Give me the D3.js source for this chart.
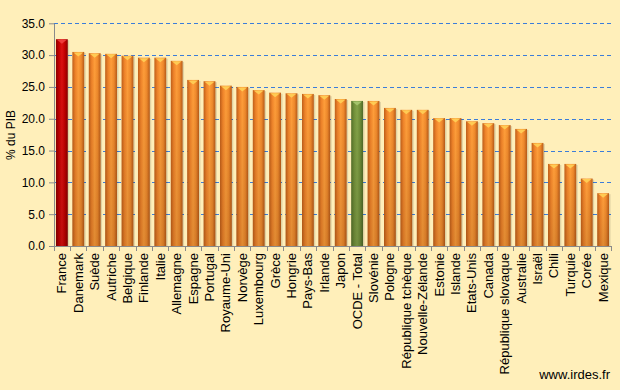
<!DOCTYPE html>
<html>
<head>
<meta charset="utf-8">
<script src="https://cdn.jsdelivr.net/npm/d3@7/dist/d3.min.js"></script>
<style>
html,body{margin:0;padding:0;background:#FFEFBA;}
svg{display:block;font-family:"Liberation Sans",Arial,sans-serif;}
</style>
</head>
<body>
<svg id="chart" width="620" height="390"></svg>
<script>
const categories = ["France","Danemark","Suède","Autriche","Belgique","Finlande","Italie","Allemagne","Espagne","Portugal","Royaume-Uni","Norvège","Luxembourg","Grèce","Hongrie","Pays-Bas","Irlande","Japon","OCDE - Total","Slovénie","Pologne","République tchèque","Nouvelle-Zélande","Estonie","Islande","Etats-Unis","Canada","République slovaque","Australie","Israël","Chili","Turquie","Corée","Mexique"];
const values = [32.5,30.5,30.3,30.2,29.9,29.6,29.6,29.1,26.1,25.9,25.2,25.0,24.5,24.1,24.0,23.9,23.7,23.1,22.8,22.8,21.7,21.4,21.4,20.1,20.1,19.6,19.3,19.0,18.4,16.2,12.9,12.9,10.6,8.3];
const highlight = {"France":"red","OCDE - Total":"green"};
const yTicks = [0,5,10,15,20,25,30,35];
const yLabel = "% du PIB";
const credit = "www.irdes.fr";

(function(){
const svg = d3.select("#chart");
const mLeft = 54, mRight = 611, mTop = 23.3, mBottom = 246;

const x = d3.scaleBand().domain(categories).range([mLeft, mRight]).paddingInner(0.28).paddingOuter(0.12);
const y = d3.scaleLinear().domain([0,35]).range([mBottom, mTop]);

const defs = svg.append("defs");
const palettes = {
  orange: ["#C05F1A","#F0842A","#FF9E3A","#F08A2C","#B85A18"],
  red: ["#8E0000","#C40000","#DC1010","#C20000","#880000"],
  green: ["#55702A","#73913A","#84A348","#708E38","#506A28"]
};
Object.entries(palettes).forEach(([k,c]) => {
  const g = defs.append("linearGradient").attr("id","g-"+k).attr("x1","0").attr("x2","1").attr("y1","0").attr("y2","0");
  [0,0.25,0.5,0.75,1].forEach((o,i)=> g.append("stop").attr("offset",o).attr("stop-color",c[i]));
});
const shade = defs.append("linearGradient").attr("id","shade").attr("x1","0").attr("x2","0").attr("y1","0").attr("y2","1");
shade.append("stop").attr("offset",0).attr("stop-color","#000").attr("stop-opacity",0);
shade.append("stop").attr("offset",1).attr("stop-color","#000").attr("stop-opacity",0.12);
const caps = {orange:"#FFD058", red:"#F04040", green:"#A8C870"};

// grid
svg.append("g").attr("class","grid").selectAll("line").data(yTicks.filter(d=>d>0)).join("line")
  .attr("x1", mLeft).attr("x2", mRight)
  .attr("y1", d=>Math.round(y(d))+0.5).attr("y2", d=>Math.round(y(d))+0.5)
  .attr("stroke","#3C7DD9").attr("stroke-width",1).attr("stroke-dasharray","4,3")
  .attr("shape-rendering","crispEdges");

// bars
const bars = svg.append("g");
categories.forEach((c,i) => {
  const k = highlight[c] || "orange";
  const x0 = x(c), w = x.bandwidth(), yt = y(values[i]), h = mBottom - yt;
  bars.append("rect").attr("x", x0+1.5).attr("y", yt+1).attr("width", w).attr("height", h-1)
    .attr("fill","#000").attr("opacity",0.12);
  bars.append("rect").attr("x", x0).attr("y", yt).attr("width", w).attr("height", h)
    .attr("fill","url(#g-"+k+")");
  bars.append("rect").attr("x", x0).attr("y", yt).attr("width", w).attr("height", h)
    .attr("fill","url(#shade)");
  bars.append("path")
    .attr("d", `M${x0+1},${yt+0.5} L${x0+w-1},${yt+0.5} L${x0+w/2},${yt+4.5} Z`)
    .attr("fill", caps[k]).attr("opacity",0.9);
});

// axes
const yAxis = d3.axisLeft(y).tickValues(yTicks).tickFormat(d3.format(".1f")).tickSize(5).tickSizeOuter(0);
const ga = svg.append("g").attr("transform",`translate(${mLeft},0)`).call(yAxis);
ga.select(".domain").attr("stroke","#8A8A8A");
ga.selectAll(".tick line").attr("stroke","#8A8A8A");
ga.selectAll(".tick text").attr("font-size","12px").attr("fill","#000").attr("x",-9).attr("font-family","Liberation Sans, Arial, sans-serif");

// x axis line and ticks at band boundaries
const gx = svg.append("g");
gx.append("line").attr("x1",mLeft).attr("x2",mRight).attr("y1",mBottom+0.5).attr("y2",mBottom+0.5).attr("stroke","#8A8A8A");
const bounds = categories.map((c)=> x(c) - x.step()*x.paddingInner()/2).concat([mRight]);
gx.selectAll("line.t").data(bounds).join("line").attr("class","t")
  .attr("x1", d=>Math.round(d)+0.5).attr("x2", d=>Math.round(d)+0.5)
  .attr("y1", mBottom).attr("y2", mBottom+5).attr("stroke","#8A8A8A");

gx.selectAll("text").data(categories).join("text")
  .attr("transform", d => `translate(${x(d)+x.bandwidth()/2+4.5},${mBottom+7}) rotate(-90)`)
  .attr("text-anchor","end").attr("font-size","13px").attr("fill","#000")
  .text(d=>d);

svg.append("text").attr("transform",`translate(15,135) rotate(-90)`)
  .attr("text-anchor","middle").attr("font-size","12px").attr("fill","#000").text(yLabel);

svg.append("text").attr("x",610).attr("y",379).attr("text-anchor","end")
  .attr("font-size","13px").attr("fill","#000").text(credit);
})();
</script>
</body>
</html>
